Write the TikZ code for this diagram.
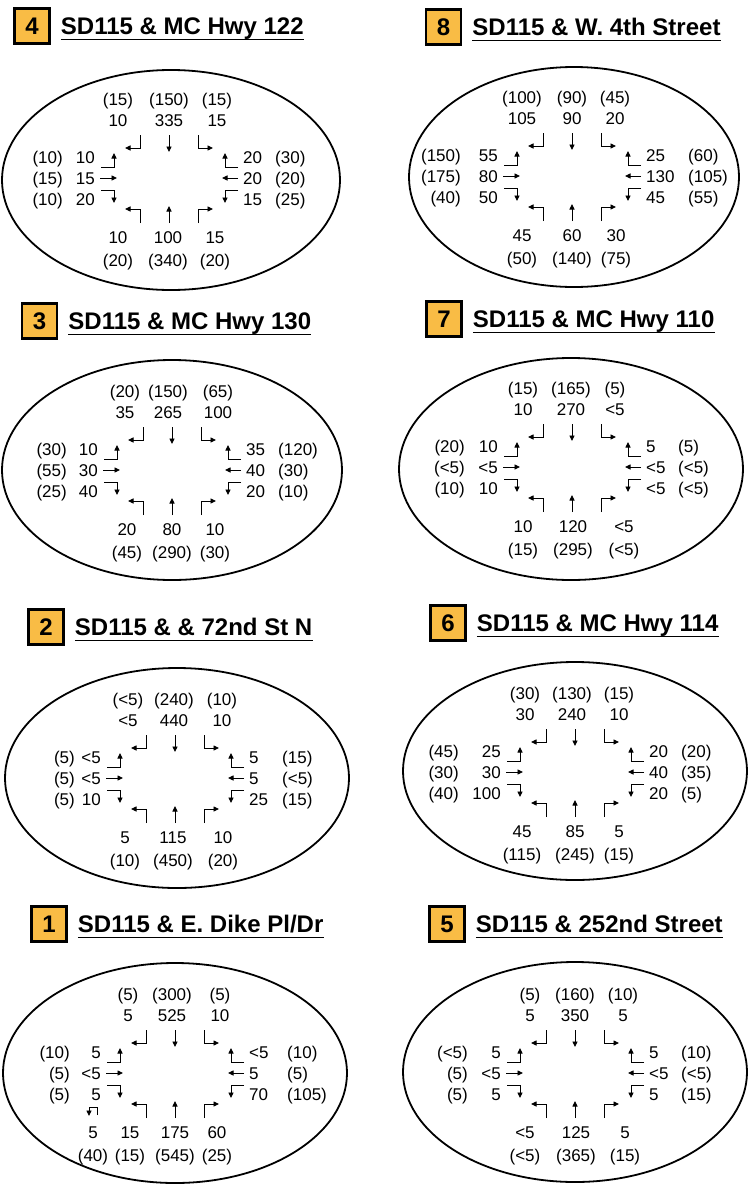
\documentclass[tikz,border=0pt]{standalone}
\usepackage{fontspec}
\setmainfont{Liberation Sans}
\usetikzlibrary{arrows.meta, positioning}
\definecolor{boxorange}{RGB}{249,188,69}

\tikzset{
  numbox/.style={draw, line width=2.5pt, fill=boxorange, minimum size=35pt,
    inner sep=0pt, font=\bfseries\fontsize{24}{24}\selectfont},
  ttl/.style={font=\bfseries\fontsize{24}{24}\selectfont, inner sep=0pt,
    text height=17.2pt, text depth=0pt},
  uline/.style={line width=1.4pt},
  curb/.style={line width=1.8pt},
  vol/.style={font=\fontsize{17}{17}\selectfont, inner sep=0pt,
    text height=12.2pt, text depth=0pt},
  mvt/.style={line width=0.9pt, -{Triangle[length=5.5pt,width=5pt]}},
}

% the twelve turning movements round one intersection
\newcommand{\movements}{%
  % southbound
  \draw[mvt] (-29,-43) -- (-29,-30) -- (-44,-30);
  \draw[mvt] (0,-43) -- (0,-26);
  \draw[mvt] (29,-43) -- (29,-30) -- (44,-30);
  % northbound
  \draw[mvt] (-29,45) -- (-29,31) -- (-44,31);
  \draw[mvt] (0,45) -- (0,28);
  \draw[mvt] (29,45) -- (29,31) -- (44,31);
  % eastbound
  \draw[mvt] (-68,-11) -- (-55,-11) -- (-55,-25);
  \draw[mvt] (-69,0) -- (-52,0);
  \draw[mvt] (-68,12) -- (-55,12) -- (-55,25);
  % westbound
  \draw[mvt] (69,-11) -- (56,-11) -- (56,-25);
  \draw[mvt] (69,0) -- (53,0);
  \draw[mvt] (69,12) -- (56,12) -- (56,25);
}
\newcommand{\toprow}[1]{%
  \foreach \x/\v/\p [count=\i] in {#1} {
    \node[vol] (tv\i) at (\x,-58) {\v};
    \node[vol] (tp\i) at (\x,-79) {(\p)};
  }}
\newcommand{\bottomrow}[1]{%
  \foreach \x/\v/\p [count=\i] in {#1} {
    \node[vol] (bv\i) at (\x,59) {\v};
    \node[vol] (bp\i) at (\x,82) {(\p)};
  }}
\newcommand{\leftcol}[2]{%
  \foreach \y/\v/\p [count=\i] in {#2} {
    \node[vol, anchor=east] (lv\i) at (-74,\y) {\v};
    \node[vol, anchor=east] (lp\i) at (-#1,\y) {(\p)};
  }}
\newcommand{\rightcol}[2]{%
  \foreach \y/\v/\p [count=\i] in {#2} {
    \node[vol, anchor=west] (rv\i) at (74,\y) {\v};
    \node[vol, anchor=west] (rp\i) at (#1,\y) {(\p)};
  }}

\begin{document}
\begin{tikzpicture}[x=1pt, y=-1pt]
  \fill[white] (0,0) rectangle (752,1184);
  \useasboundingbox (0,0) rectangle (752,1184);

  % ---- 4: SD115 & MC Hwy 122 ----
  \node[numbox] (box4) at (32,26) {4};
  \node[ttl, right=10pt of box4] (ttl4) {SD115 \& MC Hwy 122};
  \draw[uline] ([yshift=-5pt]ttl4.base west) -- ([yshift=-5pt]ttl4.base east);
  \begin{scope}[shift={(169,178)}, name prefix=p4-]
    \draw[curb] (2,2) ellipse [x radius=169, y radius=110];
    \movements
    \toprow{-51/10/15, 0/335/150, 48/15/15}
    \bottomrow{-51/10/20, -1/100/340, 46/15/20}
    \leftcol{106}{-21/10/10, 0/15/15, 21/20/10}
    \rightcol{106}{-21/20/30, 0/20/20, 21/15/25}
  \end{scope}

  % ---- 8: SD115 & W. 4th Street ----
  \node[numbox] (box8) at (443.5,27) {8};
  \node[ttl, right=10pt of box8] (ttl8) {SD115 \& W. 4th Street};
  \draw[uline] ([yshift=-5pt]ttl8.base west) -- ([yshift=-5pt]ttl8.base east);
  \begin{scope}[shift={(572,176)}, name prefix=p8-]
    \draw[curb] (2,1) ellipse [x radius=165, y radius=110];
    \movements
    \toprow{-50/105/100, 0/90/90, 43/20/45}
    \bottomrow{-50/45/50, 0/60/140, 44/30/75}
    \leftcol{111}{-21/55/150, 0/80/175, 21/50/40}
    \rightcol{116}{-21/25/60, 0/130/105, 21/45/55}
  \end{scope}

  % ---- 3: SD115 & MC Hwy 130 ----
  \node[numbox] (box3) at (39.5,321) {3};
  \node[ttl, right=10pt of box3] (ttl3) {SD115 \& MC Hwy 130};
  \draw[uline] ([yshift=-5pt]ttl3.base west) -- ([yshift=-5pt]ttl3.base east);
  \begin{scope}[shift={(172,470)}, name prefix=p3-]
    \draw[curb] (0,0) ellipse [x radius=170, y radius=110];
    \movements
    \toprow{-47/35/20, -4/265/150, 46/100/65}
    \bottomrow{-45/20/45, 0/80/290, 43/10/30}
    \leftcol{105}{-21/10/30, 0/30/55, 21/40/25}
    \rightcol{106}{-21/35/120, 0/40/30, 21/20/10}
  \end{scope}

  % ---- 7: SD115 & MC Hwy 110 ----
  \node[numbox] (box7) at (444,319) {7};
  \node[ttl, right=10pt of box7] (ttl7) {SD115 \& MC Hwy 110};
  \draw[uline] ([yshift=-5pt]ttl7.base west) -- ([yshift=-5pt]ttl7.base east);
  \begin{scope}[shift={(572,467)}, name prefix=p7-]
    \draw[curb] (-1,2) ellipse [x radius=172, y radius=111];
    \movements
    \toprow{-49/10/15, -1/270/165, 43/<5/5}
    \bottomrow{-49/10/15, 1/120/295, 52/<5/<5}
    \leftcol{107}{-21/10/20, 0/<5/<5, 21/10/10}
    \rightcol{106}{-21/5/5, 0/<5/<5, 21/<5/<5}
  \end{scope}

  % ---- 2: SD115 & & 72nd St N ----
  \node[numbox] (box2) at (46,627) {2};
  \node[ttl, right=10pt of box2] (ttl2) {SD115 \& \& 72nd St N};
  \draw[uline] ([yshift=-5pt]ttl2.base west) -- ([yshift=-5pt]ttl2.base east);
  \begin{scope}[shift={(175,778)}, name prefix=p2-]
    \draw[curb] (2,0) ellipse [x radius=172, y radius=110];
    \movements
    \toprow{-47/<5/<5, -1/440/240, 47/10/10}
    \bottomrow{-50/5/10, -2/115/450, 48/10/20}
    \leftcol{100}{-21/<5/5, 0/<5/5, 21/10/5}
    \rightcol{107}{-21/5/15, 0/5/<5, 21/25/15}
  \end{scope}

  % ---- 6: SD115 & MC Hwy 114 ----
  \node[numbox] (box6) at (448,623) {6};
  \node[ttl, right=10pt of box6] (ttl6) {SD115 \& MC Hwy 114};
  \draw[uline] ([yshift=-5pt]ttl6.base west) -- ([yshift=-5pt]ttl6.base east);
  \begin{scope}[shift={(575,772)}, name prefix=p6-]
    \draw[curb] (0,-1) ellipse [x radius=172, y radius=109];
    \movements
    \toprow{-50/30/30, -3/240/130, 44/10/15}
    \bottomrow{-53/45/115, 0/85/245, 44/5/15}
    \leftcol{116}{-21/25/45, 0/30/30, 21/100/40}
    \rightcol{106}{-21/20/20, 0/40/35, 21/20/5}
  \end{scope}

  % ---- 1: SD115 & E. Dike Pl/Dr ----
  \node[numbox] (box1) at (49,924) {1};
  \node[ttl, right=10pt of box1] (ttl1) {SD115 \& E. Dike Pl/Dr};
  \draw[uline] ([yshift=-5pt]ttl1.base west) -- ([yshift=-5pt]ttl1.base east);
  \begin{scope}[shift={(175,1073)}, name prefix=p1-]
    \draw[curb] (0,0) ellipse [x radius=172, y radius=110];
    \movements
    % northbound u-turn
    \draw[mvt] (-78,42) -- (-78,34) -- (-86,34) -- (-86,43);
    \toprow{-47/5/5, -3/525/300, 45/10/5}
    \bottomrow{-82/5/40, -45/15/15, 0/175/545, 42/60/25}
    \leftcol{105}{-21/5/10, 0/<5/5, 21/5/5}
    \rightcol{112}{-21/<5/10, 0/5/5, 21/70/105}
  \end{scope}

  % ---- 5: SD115 & 252nd Street ----
  \node[numbox] (box5) at (447,924) {5};
  \node[ttl, right=10pt of box5] (ttl5) {SD115 \& 252nd Street};
  \draw[uline] ([yshift=-5pt]ttl5.base west) -- ([yshift=-5pt]ttl5.base east);
  \begin{scope}[shift={(575,1073)}, name prefix=p5-]
    \draw[curb] (0,-1) ellipse [x radius=172, y radius=110];
    \movements
    \toprow{-45/5/5, 0/350/160, 48/5/10}
    \bottomrow{-50/<5/<5, 1/125/365, 50/5/15}
    \leftcol{107}{-21/5/<5, 0/<5/5, 21/5/5}
    \rightcol{106}{-21/5/10, 0/<5/<5, 21/5/15}
  \end{scope}
\end{tikzpicture}
\end{document}
